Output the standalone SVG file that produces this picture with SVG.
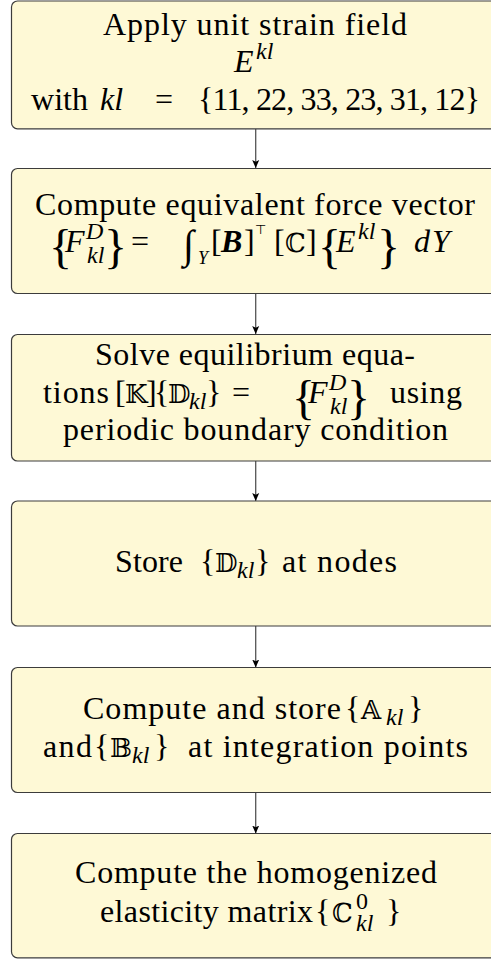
<svg xmlns="http://www.w3.org/2000/svg" width="491" height="959" viewBox="0 0 491 959">
<style>
.box{fill:#fef9d6;stroke:#3c3c3c;stroke-width:1.2}
text{font-family:Liberation Serif,Times New Roman,serif;font-size:32px;fill:#000}
.i{font-style:italic}
.s{font-size:24px}
.bg{font-size:48px}
.bb{font-family:DejaVu Serif,DejaVu Sans,serif;font-size:26px}
.con line{stroke:#555;stroke-width:1.3}
</style>
<defs>
<marker id="ah" markerUnits="userSpaceOnUse" markerWidth="10" markerHeight="10" refX="8" refY="4" orient="auto">
<path d="M0,0.5 L8,4 L0,7.5 L1.8,4 z" fill="#000"/>
</marker>
</defs>
<rect width="491" height="959" fill="#fff"/>
<g id="connectors" class="con">
<line x1="255.7" y1="129" x2="255.7" y2="168" marker-end="url(#ah)"/>
<line x1="255.7" y1="293.5" x2="255.7" y2="334" marker-end="url(#ah)"/>
<line x1="255.7" y1="461" x2="255.7" y2="501" marker-end="url(#ah)"/>
<line x1="255.7" y1="626" x2="255.7" y2="667.5" marker-end="url(#ah)"/>
<line x1="255.7" y1="792.5" x2="255.7" y2="833.5" marker-end="url(#ah)"/>
</g>
<g id="n1">
<rect class="box" x="11.5" y="1" width="489" height="127.8" rx="6"/>
<text x="103" y="34.5" textLength="304" lengthAdjust="spacing">Apply unit strain field</text>
<text y="72"><tspan class="i" x="234">E</tspan><tspan class="i s" x="256" y="59">kl</tspan></text>
<text y="110"><tspan x="31" textLength="57" lengthAdjust="spacing">with</tspan><tspan class="i" x="100">kl</tspan><tspan x="155">=</tspan><tspan x="198" textLength="282" lengthAdjust="spacing">{11, 22, 33, 23, 31, 12}</tspan></text>
</g>
<g id="n2">
<rect class="box" x="11.5" y="168.5" width="489" height="125" rx="6"/>
<text x="35" y="215" textLength="440" lengthAdjust="spacing">Compute equivalent force vector</text>
<text y="252"><tspan class="bg" x="49" y="263">{</tspan><tspan class="i" x="65" y="252">F</tspan><tspan class="i s" x="86" y="239">D</tspan><tspan class="i s" x="87" y="263">kl</tspan><tspan class="bg" x="104" y="263">}</tspan><tspan x="131" y="252">=</tspan><tspan x="183" y="258" style="font-size:40px">∫</tspan><tspan class="i" x="198" y="264" style="font-size:18px">Y</tspan><tspan x="211" y="252">[</tspan><tspan x="221" font-weight="bold" font-style="italic">B</tspan><tspan x="244">]</tspan><tspan x="255" y="234" style="font-family:DejaVu Sans,sans-serif;font-size:13px">⊤</tspan><tspan x="274" y="252">[</tspan><tspan class="bb" x="285">ℂ</tspan><tspan x="306">]</tspan><tspan class="bg" x="318" y="263">{</tspan><tspan class="i" x="336" y="252">E</tspan><tspan class="i s" x="358" y="239">kl</tspan><tspan class="bg" x="377" y="263">}</tspan><tspan class="i" x="414" y="252">d</tspan><tspan class="i" x="432">Y</tspan></text>
</g>
<g id="n3">
<rect class="box" x="11.5" y="334.5" width="489" height="126.5" rx="6"/>
<text x="95" y="365" textLength="320" lengthAdjust="spacing">Solve equilibrium equa-</text>
<text y="403"><tspan x="43" textLength="66" lengthAdjust="spacing">tions</tspan><tspan x="115">[</tspan><tspan class="bb" x="125">𝕂</tspan><tspan x="146">]</tspan><tspan x="154">{</tspan><tspan class="bb" x="168">𝔻</tspan><tspan class="i s" x="189" y="409">kl</tspan><tspan x="206" y="403">}</tspan><tspan x="232">=</tspan><tspan class="bg" x="292" y="414">{</tspan><tspan class="i" x="308" y="403">F</tspan><tspan class="i s" x="329" y="390">D</tspan><tspan class="i s" x="330" y="414">kl</tspan><tspan class="bg" x="347" y="414">}</tspan><tspan x="390" y="403" textLength="72" lengthAdjust="spacing">using</tspan></text>
<text x="63" y="440" textLength="385" lengthAdjust="spacing">periodic boundary condition</text>
</g>
<g id="n4">
<rect class="box" x="11.5" y="501" width="489" height="125" rx="6"/>
<text y="572"><tspan x="200">{</tspan><tspan class="bb" x="215">𝔻</tspan><tspan class="i s" x="237" y="578">kl</tspan><tspan x="255" y="572">}</tspan></text>
<text y="572"><tspan x="115" textLength="68" lengthAdjust="spacing">Store</tspan><tspan x="282" textLength="115" lengthAdjust="spacing">at nodes</tspan></text>
</g>
<g id="n5">
<rect class="box" x="11.5" y="667.5" width="489" height="125" rx="6"/>
<text y="719"><tspan x="83" textLength="258" lengthAdjust="spacing">Compute and store</tspan><tspan x="345">{</tspan><tspan class="bb" x="361">𝔸</tspan><tspan class="i s" x="386" y="725">kl</tspan><tspan x="408" y="719">}</tspan></text>
<text y="757"><tspan x="43" textLength="49" lengthAdjust="spacing">and</tspan><tspan x="94">{</tspan><tspan class="bb" x="110">𝔹</tspan><tspan class="i s" x="132" y="763">kl</tspan><tspan x="154" y="757">}</tspan><tspan x="188" textLength="280" lengthAdjust="spacing">at integration points</tspan></text>
</g>
<g id="n6">
<rect class="box" x="11.5" y="833.5" width="489" height="124.3" rx="6"/>
<text x="75" y="883" textLength="362" lengthAdjust="spacing">Compute the homogenized</text>
<text y="922"><tspan x="100" textLength="213" lengthAdjust="spacing">elasticity matrix</tspan><tspan x="315">{</tspan><tspan class="bb" x="332">ℂ</tspan><tspan class="s" x="356" y="909">0</tspan><tspan class="i s" x="356" y="931">kl</tspan><tspan x="386" y="922">}</tspan></text>
</g>
</svg>
